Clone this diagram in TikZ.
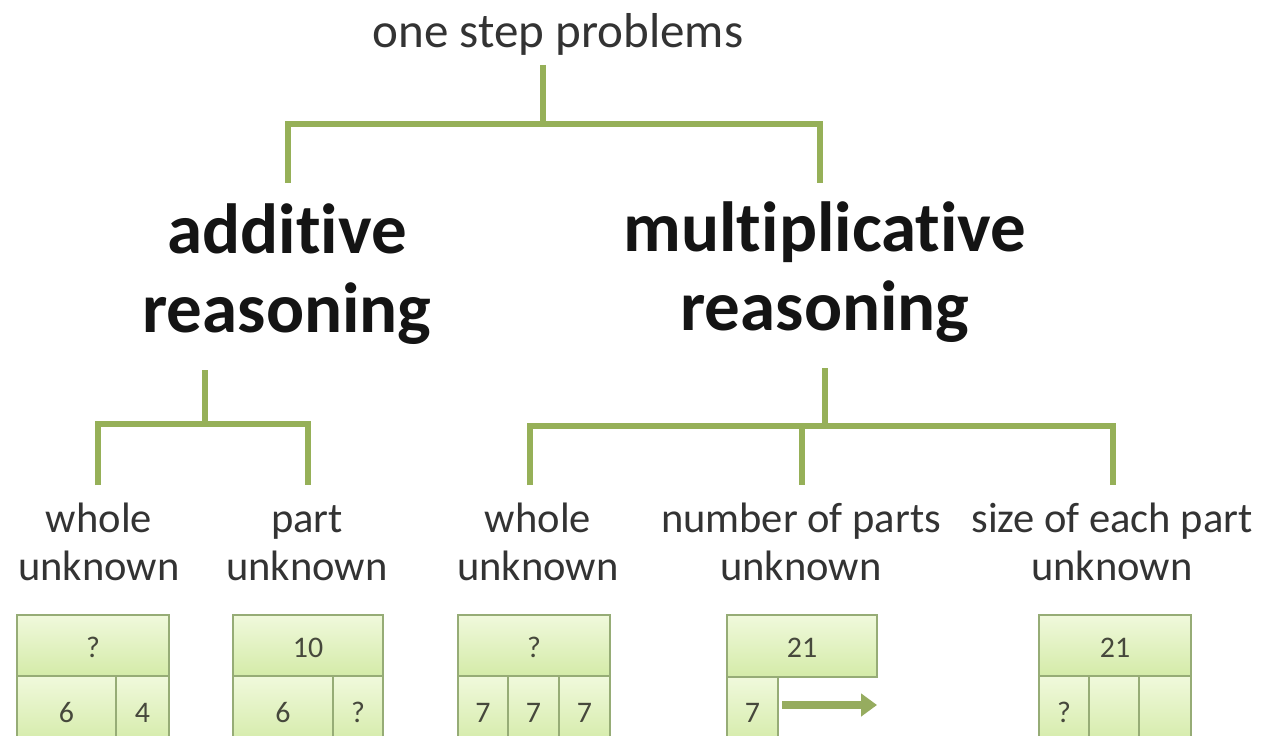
\documentclass[tikz,border=0pt]{standalone}
\usepackage{fontspec}
\setmainfont{Carlito}[Ligatures=NoCommon]
\usetikzlibrary{arrows.meta}
\definecolor{branch}{RGB}{150,176,88}
\definecolor{cellline}{RGB}{150,172,118}
\definecolor{celltop}{RGB}{240,249,220}
\definecolor{cellbot}{RGB}{212,235,168}
\definecolor{txtdark}{RGB}{20,20,20}
\definecolor{txtgray}{RGB}{51,51,51}
\definecolor{numgray}{RGB}{70,72,60}
\definecolor{arrowgreen}{RGB}{150,172,95}
\newcommand{\gcell}[6]{%
  \draw[cellsty] (#2,#3) rectangle (#4,#5);
  \node[numtxt] (#1) at ({(#2+#4)/2},{(#3+#5)/2+2}) {#6};}
\begin{document}
\begin{tikzpicture}[x=0.02cm,y=-0.02cm,
  br/.style={draw=branch,line width=3.4pt,line cap=butt,line join=miter},
  titletxt/.style={font=\fontsize{27.9}{33}\selectfont,text=txtgray,inner sep=0pt},
  bigtxt/.style={font=\bfseries\fontsize{40.4}{44.4}\selectfont,text=txtdark,align=center,inner sep=0pt},
  labtxt/.style={font=\fontsize{24.2}{27.3}\selectfont,text=txtgray,align=center,inner sep=0pt},
  numtxt/.style={font=\fontsize{17}{20}\selectfont,text=numgray,inner sep=0pt},
  cellsty/.style={draw=cellline,line width=0.7pt,top color=celltop,bottom color=cellbot},
  arr/.style={draw=arrowgreen,line width=4pt,-{Triangle[length=9pt,width=12.5pt]}}]
\useasboundingbox (0,0) rectangle (1263,736);
\clip (0,0) rectangle (1263,736);
\fill[white] (0,0) rectangle (1263,736);
% texts (anchor base = baseline of the last line)
\node[titletxt,anchor=base] (top) at (558,48) {one step problems};
\node[bigtxt,anchor=base] (add) at (287,332) {additive\\reasoning};
\node[bigtxt,anchor=base] (mult) at (825,330) {multiplicative\\reasoning};
\node[labtxt,anchor=base] (l1) at (99,580) {whole\\unknown};
\node[labtxt,anchor=base] (l2) at (307,580) {part\\unknown};
\node[labtxt,anchor=base] (l3) at (538,580) {whole\\unknown};
\node[labtxt,anchor=base] (l4) at (801,580) {number of parts\\unknown};
\node[labtxt,anchor=base] (l5) at (1112,580) {size of each part\\unknown};
% branch points
\coordinate (t0) at (543,65);
\coordinate (t1) at (543,124);
\coordinate (tL) at (288,183);
\coordinate (tR) at (820,183);
\coordinate (a0) at (205,370);
\coordinate (a1) at (205,424);
\coordinate (aL) at (98,485);
\coordinate (aR) at (308,485);
\coordinate (m0) at (825,368);
\coordinate (m1) at (825,426);
\coordinate (mL) at (530,485);
\coordinate (mM) at (802,485);
\coordinate (mR) at (1113,485);
\draw[br] (t0) -- (t1);
\draw[br] (tL) -- (tL |- t1) -- (tR |- t1) -- (tR);
\draw[br] (a0) -- (a1);
\draw[br] (aL) -- (aL |- a1) -- (aR |- a1) -- (aR);
\draw[br] (m0) -- (m1);
\draw[br] (mL) -- (mL |- m1) -- (mR |- m1) -- (mR);
\draw[br] (mM |- m1) -- (mM);
% bar models
\gcell{b1t}{17}{615}{169}{676}{?}
\gcell{b1a}{17}{676}{116}{745}{6}
\gcell{b1b}{116}{676}{169}{745}{4}
\gcell{b2t}{233}{615}{383}{676}{10}
\gcell{b2a}{233}{676}{333}{745}{6}
\gcell{b2b}{333}{676}{383}{745}{?}
\gcell{b3t}{458}{615}{610}{676}{?}
\gcell{b3a}{458}{676}{508}{745}{7}
\gcell{b3b}{508}{676}{559}{745}{7}
\gcell{b3c}{559}{676}{610}{745}{7}
\gcell{b4t}{727}{615}{877}{677}{21}
\gcell{b4a}{727}{677}{778}{745}{7}
\gcell{b5t}{1039}{615}{1191}{676}{21}
\gcell{b5a}{1039}{676}{1089}{745}{?}
\gcell{b5b}{1089}{676}{1139}{745}{}
\gcell{b5c}{1139}{676}{1191}{745}{}
\coordinate (arrStart) at (782,705);
\coordinate (arrEnd) at (877,705);
\draw[arr] (arrStart) -- (arrEnd);
\end{tikzpicture}
\end{document}
